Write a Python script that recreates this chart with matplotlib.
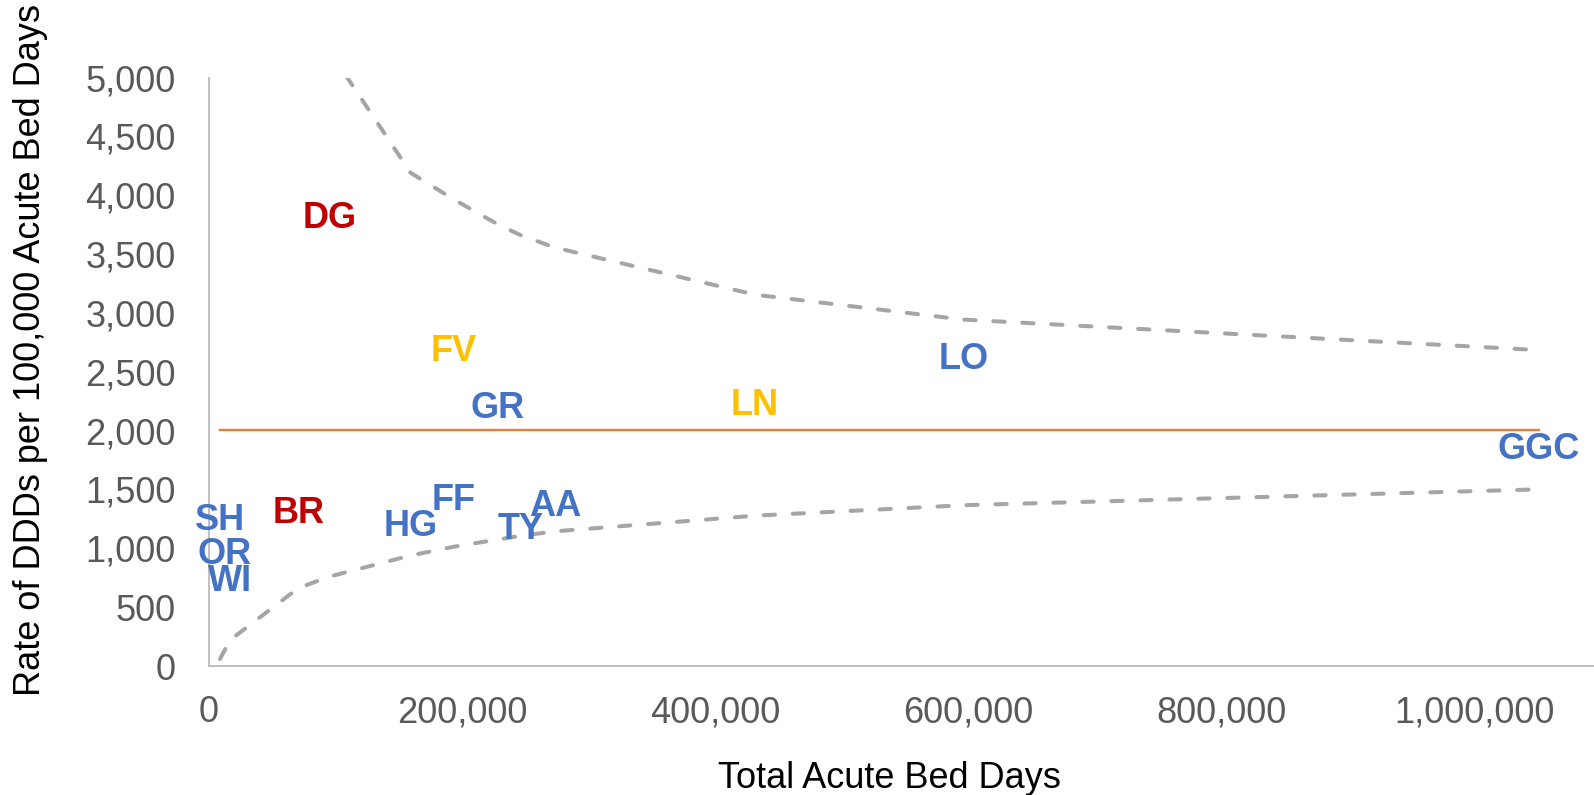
import numpy as np
import matplotlib
matplotlib.use("Agg")
import matplotlib.pyplot as plt
from matplotlib.ticker import FuncFormatter, MultipleLocator

# Board-level results: total acute bed days and DDDs per 100,000 acute bed days
boards = ["SH", "OR", "WI", "BR", "DG", "HG", "FF", "FV", "GR", "TY", "AA", "LN", "LO", "GGC"]
bed_days = [8700, 12650, 16600, 70600, 95650, 159400, 193100, 193700,
            227900, 246400, 273500, 431600, 596300, 1051400]
ddd_rate = [1263, 979, 748, 1326, 3830, 1217, 1433, 2704,
            2213, 1193, 1382, 2245, 2636, 1869]
board_group = ["blue", "blue", "blue", "red", "red", "blue", "blue", "amber",
               "blue", "blue", "blue", "amber", "blue", "blue"]

# Funnel: national mean and control limits evaluated at each board's bed days
limit_bed_days = [8700, 12650, 16600, 70600, 95650, 159400, 193400,
                  227900, 246400, 273500, 431600, 596300, 1051400]
national_mean = 2005
upper_limit = [np.nan, np.nan, np.nan, np.nan, 5220, 4190, 3965,
               3755, 3660, 3555, 3155, 2943, 2684]
lower_limit = [60, 140, 220, 662, 761, 939, 1013,
               1074, 1106, 1144, 1277, 1366, 1501]

group_colours = {"blue": "#4472C4", "red": "#C00000", "amber": "#FFC000"}

plt.rcParams["font.family"] = ["Liberation Sans", "DejaVu Sans"]

W, H = 1594, 795
fig = plt.figure(figsize=(W / 100, H / 100), dpi=100)
x0, x1, y0, y1 = 209, 1594, 666, 77.5
ax = fig.add_axes([x0 / W, 1 - y0 / H, (x1 - x0) / W, (y0 - y1) / H])

dash = dict(color="#A5A5A5", lw=2.9, dashes=(2.8, 4.4),
            dash_capstyle="round", solid_capstyle="round")
ax.plot(limit_bed_days, upper_limit, **dash)
ax.plot(limit_bed_days, lower_limit, **dash)
ax.plot(limit_bed_days, [national_mean] * len(limit_bed_days),
        color="#ED7D31", lw=1.7)

cap_offset = -0.716 * 26 / 2
for name, bx, rate, grp in zip(boards, bed_days, ddd_rate, board_group):
    ax.annotate(name, (bx, rate), xytext=(0, cap_offset), textcoords="offset points",
                ha="center", va="baseline", fontsize=26, fontweight="bold",
                color=group_colours[grp], annotation_clip=False)

ax.set_xlim(0, 1385 * 200000 / 253)
ax.set_ylim(0, 5000)
ax.xaxis.set_major_locator(MultipleLocator(200000))
ax.yaxis.set_major_locator(MultipleLocator(500))
fmt = FuncFormatter(lambda v, p: f"{int(round(v)):,}")
ax.xaxis.set_major_formatter(fmt)
ax.yaxis.set_major_formatter(fmt)
ax.tick_params(axis="both", length=0, labelsize=26, labelcolor="#595959")
ax.tick_params(axis="y", pad=24)
ax.tick_params(axis="x", pad=21)

for side in ("top", "right"):
    ax.spines[side].set_visible(False)
for side in ("left", "bottom"):
    ax.spines[side].set_color("#BFBFBF")
    ax.spines[side].set_linewidth(1.4)

fig.text(889.5 / W, 1 - 778 / H, "Total Acute Bed Days", ha="center", va="center",
         fontsize=26, color="black")
fig.text(31 / W, 1 - 350 / H, "Rate of DDDs per 100,000 Acute Bed Days",
         rotation=90, ha="center", va="center", fontsize=26, color="black")

fig.savefig("out.png", dpi=100)
